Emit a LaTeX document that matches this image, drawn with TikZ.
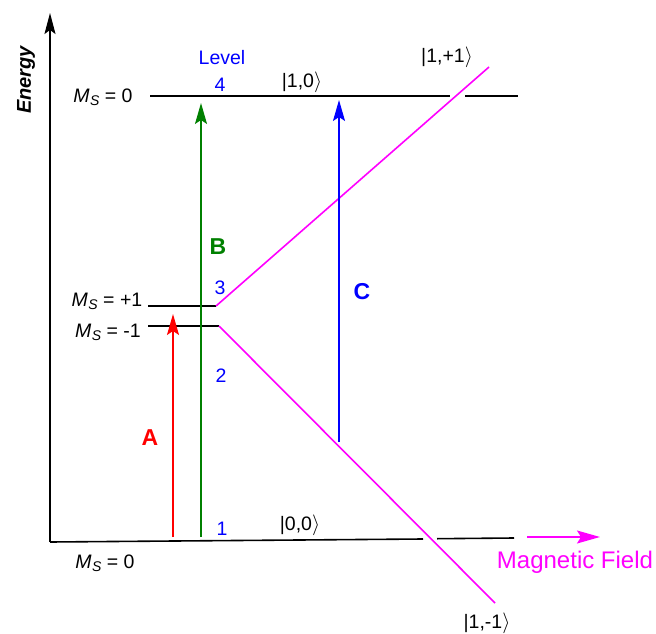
\documentclass[tikz,border=0pt]{standalone}
\usepackage{fontspec}
\setmainfont{Liberation Sans}
\usetikzlibrary{arrows.meta}
\definecolor{zeeman}{RGB}{255,0,255}
\definecolor{darkgreen}{RGB}{0,128,0}
\newcommand{\Ms}{{\itshape M\kern0.5pt\raisebox{-0.3ex}{\fontsize{14}{16}\selectfont S}}}
\newcommand{\ket}[1]{|#1$\rangle$}

\begin{document}
\begin{tikzpicture}[x=1pt,y=-1pt,
    lvl/.style={line width=1.6pt},
    zee/.style={zeeman,line width=1.6pt},
    trans/.style={line width=1.6pt,-{Stealth[length=21pt,width=12pt,inset=4pt]}},
    lab/.style={font=\fontsize{19.5}{22}\selectfont,inner sep=0pt},
    num/.style={lab,blue},
    big/.style={font=\fontsize{23}{26}\selectfont\bfseries,inner sep=0pt}]
  \useasboundingbox (0,0) rectangle (656,634);
  % axes: energy up, field to the right
  \coordinate (origin) at (50,542);
  \coordinate (ytop) at (50,13);
  \draw[lvl,-{Stealth[length=21pt,width=11pt,inset=4pt]}] (origin) -- (ytop);
  \node[rotate=90,font=\fontsize{20}{23}\selectfont\bfseries\itshape,inner sep=0pt] (energy) at (26,80) {Energy};
  \coordinate (bstart) at (527,537);
  \coordinate (bend) at (600,537);
  \draw[zee,-{Stealth[length=23pt,width=13pt,inset=4pt]}] (bstart) -- (bend);
  \node[zeeman,font=\fontsize{24}{27}\selectfont,inner sep=0pt] (field) at (575,562) {Magnetic Field};
  % zero-field levels (broken where the Zeeman lines cross)
  \coordinate (t0) at (150,96);  \coordinate (t1) at (450,96);
  \coordinate (t2) at (465,96);  \coordinate (t3) at (518,96);
  \coordinate (p0) at (148,306); \coordinate (p1) at (216,306);
  \coordinate (m0) at (148,326); \coordinate (m1) at (219,326);
  \coordinate (g1) at (423,539); \coordinate (g2) at (437,538.7);
  \coordinate (g3) at (514,538);
  \draw[lvl] (t0) -- (t1) (t2) -- (t3);
  \draw[lvl] (p0) -- (p1);
  \draw[lvl] (m0) -- (m1);
  \draw[lvl] (origin) -- (g1) (g2) -- (g3);
  % Zeeman branches
  \coordinate (up) at (489,67);
  \coordinate (down) at (495,603);
  \draw[zee] (p1) -- (up);
  \draw[zee] (m1) -- (down);
  % transitions
  \coordinate (a0) at (173,537); \coordinate (a1) at (173,314);
  \coordinate (b0) at (201,537); \coordinate (b1) at (201,103);
  \coordinate (c0) at (339,442); \coordinate (c1) at (339,100);
  \draw[trans,red] (a0) -- (a1);
  \draw[trans,darkgreen] (b0) -- (b1);
  \draw[trans,blue] (c0) -- (c1);
  \node[big,red] (A) at (150,438) {A};
  \node[big,darkgreen] (B) at (218,247) {B};
  \node[big,blue] (C) at (362,292) {C};
  % level labels
  \node[lab] (ms0top) at (103,97) {\Ms{} = 0};
  \node[lab] (msplus) at (107,301) {\Ms{} = +1};
  \node[lab] (msminus) at (108,332) {\Ms{} = -1};
  \node[lab] (ms0bot) at (105,563) {\Ms{} = 0};
  \node[num] (level) at (222,58) {Level};
  \node[num] (n4) at (220,85) {4};
  \node[num] (n3) at (220,288) {3};
  \node[num] (n2) at (221,376) {2};
  \node[num] (n1) at (222,529) {1};
  \node[lab] (k10) at (302,82) {\ket{1,0}};
  \node[lab] (k11) at (447,57) {\ket{1,+1}};
  \node[lab] (k00) at (300,525) {\ket{0,0}};
  \node[lab] (k1m) at (487,623) {\ket{1,-1}};
\end{tikzpicture}
\end{document}
